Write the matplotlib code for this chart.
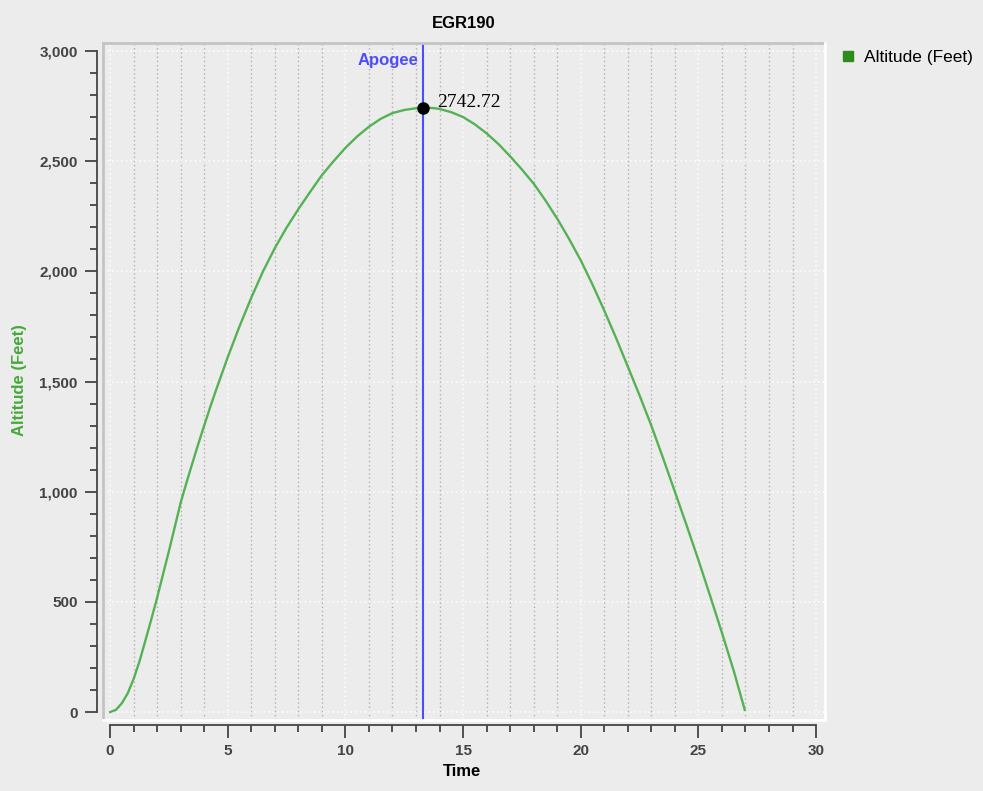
"""Rocket altitude vs time chart (EGR190) with apogee marker."""

import matplotlib
import matplotlib.pyplot as plt
from matplotlib.lines import Line2D
from matplotlib.ticker import MultipleLocator, FuncFormatter

matplotlib.use('Agg')

# Flight data
time_s = [0, 0.25, 0.5, 0.75, 1, 1.25, 1.5, 1.75, 2, 2.25, 2.5, 2.75, 3,
          3.25, 3.5, 3.75, 4, 4.25, 4.5, 5, 5.5, 6, 6.5, 7, 7.5, 8, 8.5, 9,
          9.5, 10, 10.5, 11, 11.5, 12, 12.5, 13, 13.3, 13.7, 14, 14.5, 15,
          15.5, 16, 16.5, 17, 17.5, 18, 18.5, 19, 19.5, 20, 20.5, 21, 21.5,
          22, 22.5, 23, 23.5, 24, 24.5, 25, 25.5, 26, 26.5, 26.97]
altitude_ft = [0, 10, 40, 85, 150, 230, 324, 420, 519, 625, 730, 840, 950,
               1042, 1130, 1217, 1300, 1382, 1460, 1610, 1750, 1880, 2000,
               2105, 2198, 2282, 2360, 2436, 2500, 2560, 2612, 2656, 2692,
               2718, 2732, 2740, 2742.72, 2741, 2737, 2722, 2700, 2667, 2626,
               2578, 2522, 2462, 2398, 2322, 2239, 2148, 2050, 1940, 1822,
               1698, 1568, 1437, 1300, 1152, 1000, 847, 690, 527, 360, 188, 10]

apogee_t = 13.3
apogee_ft = 2742.72

# Styling
BG = '#ececec'
GREEN = '#55b254'
LABEL_GREEN = '#46a83a'
LEGEND_GREEN = '#2e8b1e'
BLUE = '#4d4dff'
AXIS_GREY = '#444444'
FONT = 'Liberation Sans'

plt.rcParams['font.family'] = [FONT, 'DejaVu Sans']

fig = plt.figure(figsize=(9.83, 7.91), dpi=100, facecolor=BG)
ax = fig.add_axes([103 / 983, 1 - 720 / 791, 722 / 983, 677 / 791])
ax.set_facecolor(BG)

ax.plot(time_s, altitude_ft, color=GREEN, linewidth=1.7, zorder=3,
        solid_joinstyle='round')

# Apogee line, marker and labels
ax.axvline(apogee_t, color=BLUE, linewidth=1.5, zorder=4)
ax.plot([apogee_t], [apogee_ft], 'o', color='black', markersize=8, zorder=5)
ax.annotate('Apogee', xy=(apogee_t, 1), xycoords=('data', 'axes fraction'),
            xytext=(-3, -7), textcoords='offset points', ha='right', va='top',
            color=BLUE, fontsize=12, fontweight='bold')
ax.annotate(f'{apogee_ft:.2f}', xy=(apogee_t, apogee_ft),
            xytext=(10, 4), textcoords='offset points', ha='left', va='center',
            color='black', fontsize=14, family='Liberation Serif')

ax.set_xlim(-0.3, 30.38)
ax.set_ylim(-36, 3036)

# Axes: detached spines with major/minor ticks
for side in ('top', 'right'):
    ax.spines[side].set_visible(False)
ax.spines['left'].set_position(('outward', 4.3))
ax.spines['bottom'].set_position(('outward', 3.6))
ax.spines['left'].set_bounds(0, 3000)
ax.spines['bottom'].set_bounds(0, 30)
for side in ('left', 'bottom'):
    ax.spines[side].set_color(AXIS_GREY)
    ax.spines[side].set_linewidth(1.3)

ax.xaxis.set_major_locator(MultipleLocator(5))
ax.xaxis.set_minor_locator(MultipleLocator(1))
ax.yaxis.set_major_locator(MultipleLocator(500))
ax.yaxis.set_minor_locator(MultipleLocator(100))
ax.yaxis.set_major_formatter(FuncFormatter(lambda v, _: f'{v:,.0f}'))

ax.tick_params(which='major', length=9, width=1.3, color=AXIS_GREY,
               labelcolor=AXIS_GREY, labelsize=11, pad=5)
ax.tick_params(which='minor', length=5, width=1.3, color=AXIS_GREY)
for lbl in ax.get_xticklabels() + ax.get_yticklabels():
    lbl.set_fontweight('bold')

# Grid: white dotted majors, grey dotted minor verticals
ax.grid(which='major', color='white', linestyle=(0, (1, 2)), linewidth=1.1, zorder=1)
ax.grid(which='minor', axis='x', color='#b0b0b0', linestyle=(0, (1, 2)),
        linewidth=1.0, zorder=1)
ax.set_axisbelow(True)

# Bevelled frame around the plot area
frame = dict(transform=ax.transAxes, clip_on=False, linewidth=2, zorder=6)
ax.add_line(Line2D([0, 1], [1, 1], color='#c4c4c4', **frame))
ax.add_line(Line2D([0, 0], [0, 1], color='#c4c4c4', **frame))
ax.add_line(Line2D([0, 1], [0, 0], color='white', **frame))
ax.add_line(Line2D([1, 1], [0, 1], color='white', **frame))

ax.set_title('EGR190', fontsize=12, fontweight='bold', pad=11)
fig.text(462 / 983, 1 - 772 / 791, 'Time', ha='center', va='center',
         fontsize=12, fontweight='bold', color='black')
fig.text(20 / 983, 1 - 380 / 791, 'Altitude (Feet)', ha='center', va='center',
         rotation=90, fontsize=12, fontweight='bold', color=LABEL_GREEN)

handle = Line2D([], [], linestyle='none', marker='s', markersize=7,
                color=LEGEND_GREEN)
fig.legend([handle], ['Altitude (Feet)'], loc='center left',
           bbox_to_anchor=(834 / 983, 1 - 57 / 791), frameon=False,
           fontsize=12.5, handlelength=0.8, handletextpad=0.5, borderaxespad=0)

fig.savefig('out.png', dpi=100, facecolor=BG)
